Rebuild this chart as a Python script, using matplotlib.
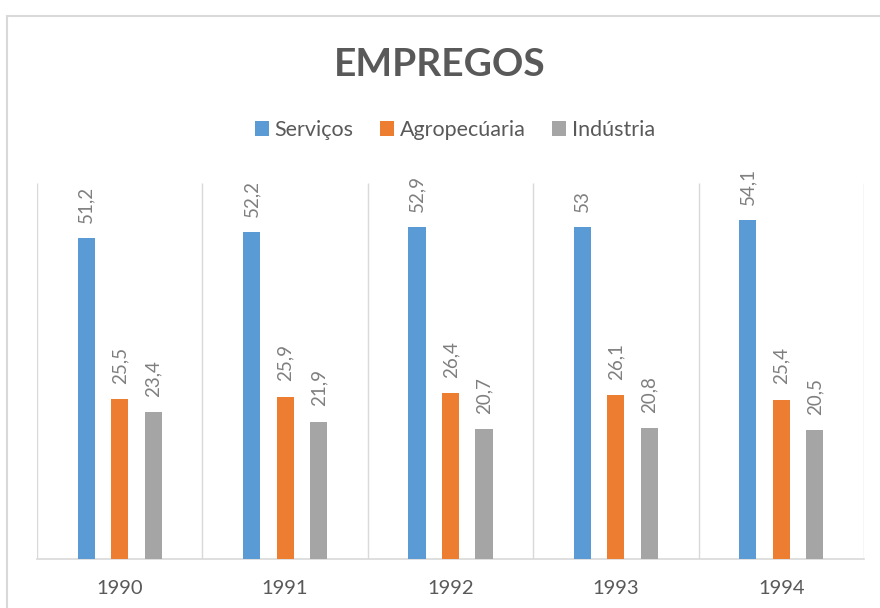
import numpy as np
import matplotlib
matplotlib.use("Agg")
import matplotlib.pyplot as plt
from matplotlib.patches import Rectangle

# ── data ────────────────────────────────────────────────────────────────────
anos = ["1990", "1991", "1992", "1993", "1994"]
servicos = [51.2, 52.2, 52.9, 53.0, 54.1]
agropecuaria = [25.5, 25.9, 26.4, 26.1, 25.4]
industria = [23.4, 21.9, 20.7, 20.8, 20.5]
rotulos_servicos = ["51,2", "52,2", "52,9", "53", "54,1"]
rotulos_agro = ["25,5", "25,9", "26,4", "26,1", "25,4"]
rotulos_ind = ["23,4", "21,9", "20,7", "20,8", "20,5"]

plt.rcParams["font.family"] = ["Lato", "DejaVu Sans"]

fig = plt.figure(figsize=(8.8, 6.08), dpi=100)
ax = fig.add_axes([37 / 880, 1 - 558.7 / 608, 827 / 880, 375.7 / 608])

# outer chart frame
fig.patches.append(Rectangle((7 / 880, -0.1), 1.2, (608 - 16) / 608 + 0.1,
                             transform=fig.transFigure, fill=False,
                             edgecolor="#D9D9D9", linewidth=1.5))

x = np.arange(len(anos))
w = 0.103
off = 0.2025
series = [
    (servicos, rotulos_servicos, "Serviços", "#5B9BD5", -off),
    (agropecuaria, rotulos_agro, "Agropecúaria", "#ED7D31", 0),
    (industria, rotulos_ind, "Indústria", "#A5A5A5", off),
]
for vals, labs, nome, cor, dx in series:
    bars = ax.bar(x + dx, vals, w, color=cor, label=nome, zorder=3)
    for b, lab in zip(bars, labs):
        ax.annotate(lab, (b.get_x() + b.get_width() / 2, b.get_height()),
                    xytext=(0, 11), textcoords="offset points",
                    rotation=90, ha="center", va="bottom",
                    fontsize=13.5, color="#7F7F7F")

# category separators
ax.vlines(np.arange(-0.5, len(anos)), 0, 60, color="#D9D9D9", linewidth=1, zorder=1)
ax.set_xlim(-0.5, len(anos) - 0.5)
ax.set_ylim(0, 60)
ax.set_yticks([])
ax.set_xticks(x)
ax.set_xticklabels(anos, fontsize=14.5, color="#595959")
ax.tick_params(axis="x", length=0, pad=15)
for s in ["top", "right", "left"]:
    ax.spines[s].set_visible(False)
ax.spines["bottom"].set_color("#D9D9D9")
ax.spines["bottom"].set_linewidth(1.2)

fig.text(0.5, 1 - 64 / 608, "EMPREGOS", ha="center", va="center",
         fontsize=28, fontweight="bold", color="#595959")
fig.legend(loc="center", bbox_to_anchor=(455 / 880, 1 - 130 / 608), ncol=3,
           frameon=False, fontsize=15.5, handlelength=0.65, handleheight=0.65,
           handletextpad=0.25, columnspacing=1.25, labelcolor="#595959")

fig.savefig("out.png", dpi=100)
